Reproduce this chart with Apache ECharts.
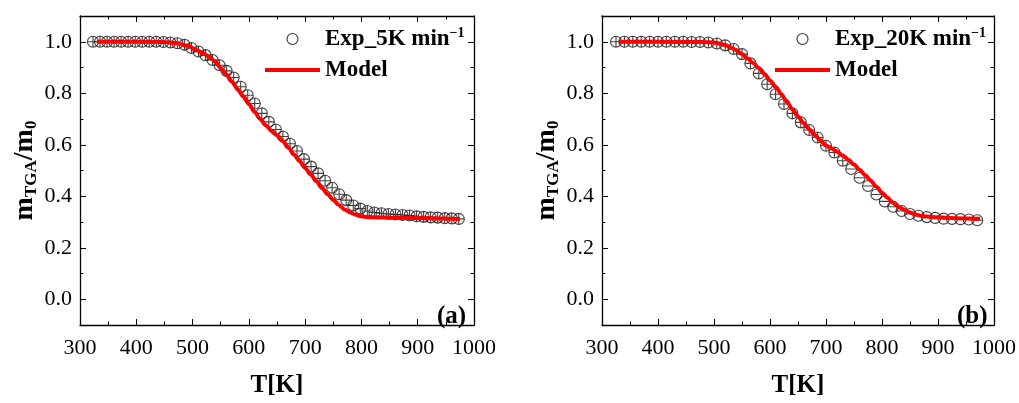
<!DOCTYPE html>
<html>
<head>
<meta charset="utf-8">
<script src="https://cdn.jsdelivr.net/npm/echarts@6/dist/echarts.min.js"></script>
<style>
html,body{margin:0;padding:0;background:#fff;}
#chart{width:1019px;height:403px;}
</style>
</head>
<body>
<div id="chart"></div>
<script>
// ---------- data ----------
const tExpA = [323, 335.5, 348, 360.5, 373, 385.5, 398, 410.5, 423, 435.5, 448, 460.5, 473, 485.5, 498, 510.5, 523, 535.5, 548, 560.5, 573, 585.5, 598, 610.5, 623, 635.5, 648, 660.5, 673, 685.5, 698, 710.5, 723, 735.5, 748, 760.5, 773, 785.5, 798, 810.5, 823, 835.5, 848, 860.5, 873, 885.5, 898, 910.5, 923, 935.5, 948, 960.5, 973];
const mExpA = [1.0, 1.0, 1.0, 1.0, 1.0, 1.0, 1.0, 1.0, 1.0, 1.0, 0.999, 0.997, 0.994, 0.988, 0.976, 0.962, 0.948, 0.929, 0.909, 0.887, 0.861, 0.825, 0.792, 0.760, 0.722, 0.689, 0.659, 0.632, 0.604, 0.576, 0.544, 0.515, 0.489, 0.460, 0.433, 0.408, 0.385, 0.364, 0.352, 0.343, 0.337, 0.334, 0.331, 0.329, 0.327, 0.325, 0.322, 0.320, 0.318, 0.317, 0.315, 0.314, 0.312];
const tModelA = [330, 400, 450, 470, 490, 510, 520, 530, 540, 550, 560, 570, 580, 590, 600, 610, 620, 630, 640, 650, 660, 670, 680, 690, 700, 710, 720, 730, 740, 750, 760, 770, 780, 790, 800, 810, 820, 840, 880, 920, 975];
const mModelA = [1.0, 1.0, 0.999, 0.995, 0.985, 0.965, 0.953, 0.941, 0.923, 0.898, 0.872, 0.845, 0.816, 0.788, 0.758, 0.728, 0.700, 0.676, 0.655, 0.637, 0.615, 0.590, 0.562, 0.537, 0.510, 0.484, 0.458, 0.432, 0.408, 0.386, 0.366, 0.349, 0.337, 0.328, 0.322, 0.319, 0.318, 0.317, 0.316, 0.315, 0.312];

const tExpB = [325, 340, 355, 370, 385, 400, 415, 430, 445, 460, 475, 490, 505, 520, 535, 550, 565, 580, 595, 610, 625, 640, 655, 670, 685, 700, 715, 730, 745, 760, 775, 790, 805, 820, 835, 850, 865, 880, 895, 910, 925, 940, 955, 970];
const mExpB = [1.0, 1.0, 1.0, 1.0, 1.0, 1.0, 1.0, 1.0, 1.0, 0.999, 0.999, 0.997, 0.993, 0.986, 0.972, 0.952, 0.916, 0.877, 0.835, 0.796, 0.758, 0.722, 0.687, 0.657, 0.628, 0.596, 0.570, 0.538, 0.506, 0.472, 0.440, 0.407, 0.380, 0.359, 0.343, 0.331, 0.324, 0.319, 0.316, 0.313, 0.312, 0.311, 0.310, 0.307];
const tModelB = [330, 400, 480, 500, 510, 520, 530, 540, 550, 560, 570, 580, 590, 600, 610, 620, 630, 640, 650, 660, 670, 680, 690, 700, 710, 720, 730, 740, 750, 760, 770, 780, 790, 800, 810, 820, 830, 840, 850, 860, 870, 880, 900, 930, 975];
const mModelB = [1.0, 1.0, 0.999, 0.997, 0.993, 0.987, 0.978, 0.967, 0.952, 0.935, 0.917, 0.898, 0.875, 0.850, 0.825, 0.797, 0.767, 0.737, 0.710, 0.684, 0.660, 0.638, 0.617, 0.597, 0.585, 0.573, 0.558, 0.542, 0.523, 0.503, 0.482, 0.460, 0.437, 0.414, 0.394, 0.374, 0.358, 0.347, 0.337, 0.329, 0.324, 0.321, 0.318, 0.315, 0.313];

const yMajor = [0.0, 0.2, 0.4, 0.6, 0.8, 1.0];
const yMinor = [0.1, 0.3, 0.5, 0.7, 0.9];
const panelLabels = ['(a)', '(b)'];
const expNames = ['Exp_5K min', 'Exp_20K min'];
const supText = '\u22121';
const modelName = 'Model';
const xName = 'T[K]';

// ---------- styling / layout ----------
const FONT = '"Liberation Serif", "Times New Roman", serif';
const BLACK = '#000';
const grids = [
  {left: 80, top: 16, width: 394, height: 317},
  {left: 602, top: 16, width: 393, height: 317}
];
const PLUS = 'path://M0,-10A10,10,0,1,1,0,10A10,10,0,1,1,0,-10ZM-10,0L10,0M0,-10L0,10';
const MINUS = 'path://M0,-10A10,10,0,1,1,0,10A10,10,0,1,1,0,-10ZM-10,0L10,0';
const LINE_ICON = 'path://M0,0L55,0L55,4L0,4Z';

const xAxes = [], yAxes = [];
grids.forEach((g, gi) => {
  ['bottom', 'top'].forEach(pos => {
    const main = pos === 'bottom';
    xAxes.push({
      type: 'value', gridIndex: gi, position: pos, min: 300, max: 1000, interval: 100,
      axisLine: {show: true, onZero: false, lineStyle: {color: BLACK, width: 1.3}},
      axisTick: {show: true, inside: true, length: 6, lineStyle: {color: BLACK, width: 1}},
      minorTick: {show: true, splitNumber: 2, length: 3.5, lineStyle: {color: BLACK, width: 1}},
      axisLabel: {show: main, margin: 12, color: BLACK, fontFamily: FONT, fontSize: 22,
        formatter: v => String(Math.round(v))},
      splitLine: {show: false}, minorSplitLine: {show: false},
      name: main ? xName : '', nameLocation: 'middle', nameGap: 48,
      nameTextStyle: {fontFamily: FONT, fontSize: 25, fontWeight: 'bold', color: BLACK}
    });
  });
  ['left', 'right'].forEach(pos => {
    const main = pos === 'left';
    yAxes.push({
      type: 'value', gridIndex: gi, position: pos, min: -0.1, max: 1.1, interval: 0.1,
      axisLine: {show: true, onZero: false, lineStyle: {color: BLACK, width: 1.3}},
      axisTick: {show: true, inside: true, length: 6, customValues: yMajor, lineStyle: {color: BLACK, width: 1}},
      axisLabel: {show: main, customValues: yMajor, margin: 8, color: BLACK, fontFamily: FONT, fontSize: 22,
        formatter: v => v.toFixed(1)},
      splitLine: {show: false},
      name: main ? '{m|m}{s|TGA}{m|/m}{s|0}' : '', nameLocation: 'middle', nameGap: 37,
      nameTextStyle: {
        rich: {
          m: {fontFamily: FONT, fontSize: 28, fontWeight: 'bold', color: BLACK, lineHeight: 32, verticalAlign: 'middle'},
          s: {fontFamily: FONT, fontSize: 17, fontWeight: 'bold', color: BLACK, lineHeight: 14, verticalAlign: 'bottom'}
        }
      }
    });
    yAxes.push({
      type: 'value', gridIndex: gi, position: pos, min: -0.1, max: 1.1, interval: 0.1,
      axisLine: {show: false, onZero: false},
      axisTick: {show: true, inside: true, length: 3.5, customValues: yMinor, lineStyle: {color: BLACK, width: 1}},
      axisLabel: {show: false},
      splitLine: {show: false}
    });
  });
});

const exps = [[tExpA, mExpA], [tExpB, mExpB]];
const models = [[tModelA, mModelA], [tModelB, mModelB]];
const series = [];
const legends = [];
const titles = [];
const legendLeft = [265, 775];
const titleLeft = [437, 957];
grids.forEach((g, gi) => {
  const expId = 'exp' + gi, modId = 'model' + gi;
  series.push({
    name: expId, type: 'scatter', xAxisIndex: 2 * gi, yAxisIndex: 4 * gi,
    data: exps[gi][0].map((t, i) => [t, exps[gi][1][i]]),
    symbol: gi === 0 ? PLUS : (v => (v[0] < 740 ? PLUS : MINUS)),
    symbolSize: 11,
    itemStyle: {color: 'rgba(255,255,255,0)', borderColor: '#111', borderWidth: 1.1},
    z: 2
  });
  series.push({
    name: modId, type: 'line', xAxisIndex: 2 * gi, yAxisIndex: 4 * gi,
    data: models[gi][0].map((t, i) => [t, models[gi][1][i]]),
    symbol: 'none', smooth: 0.3, smoothMonotone: 'x',
    lineStyle: {color: '#ff0000', width: 4},
    itemStyle: {color: '#ff0000'},
    z: 3
  });
  const labelMap = {};
  labelMap[expId] = '{b|' + expNames[gi] + '}{s|' + supText + '}';
  labelMap[modId] = '{b|' + modelName + '}';
  legends.push({
    left: legendLeft[gi], top: 26, orient: 'vertical', padding: 0,
    itemWidth: 55, itemHeight: 11, itemGap: 8, selectedMode: false,
    data: [
      {name: expId, icon: 'circle', itemStyle: {color: '#fff', borderColor: BLACK, borderWidth: 1.1}},
      {name: modId, icon: LINE_ICON, itemStyle: {color: '#ff0000', borderWidth: 0}}
    ],
    formatter: n => labelMap[n],
    textStyle: {
      rich: {
        b: {fontFamily: FONT, fontSize: 23, fontWeight: 'bold', color: BLACK, lineHeight: 26},
        s: {fontFamily: FONT, fontSize: 14, fontWeight: 'bold', color: BLACK, lineHeight: 12, verticalAlign: 'top'}
      }
    }
  });
  titles.push({
    text: panelLabels[gi], left: titleLeft[gi], top: 304, padding: 0,
    textStyle: {fontFamily: FONT, fontSize: 25, fontWeight: 'bold', color: BLACK}
  });
});

const chart = echarts.init(document.getElementById('chart'), null, {renderer: 'canvas'});
chart.setOption({
  animation: false,
  backgroundColor: '#fff',
  title: titles,
  legend: legends,
  grid: grids,
  xAxis: xAxes,
  yAxis: yAxes,
  series: series
});
</script>
</body>
</html>
